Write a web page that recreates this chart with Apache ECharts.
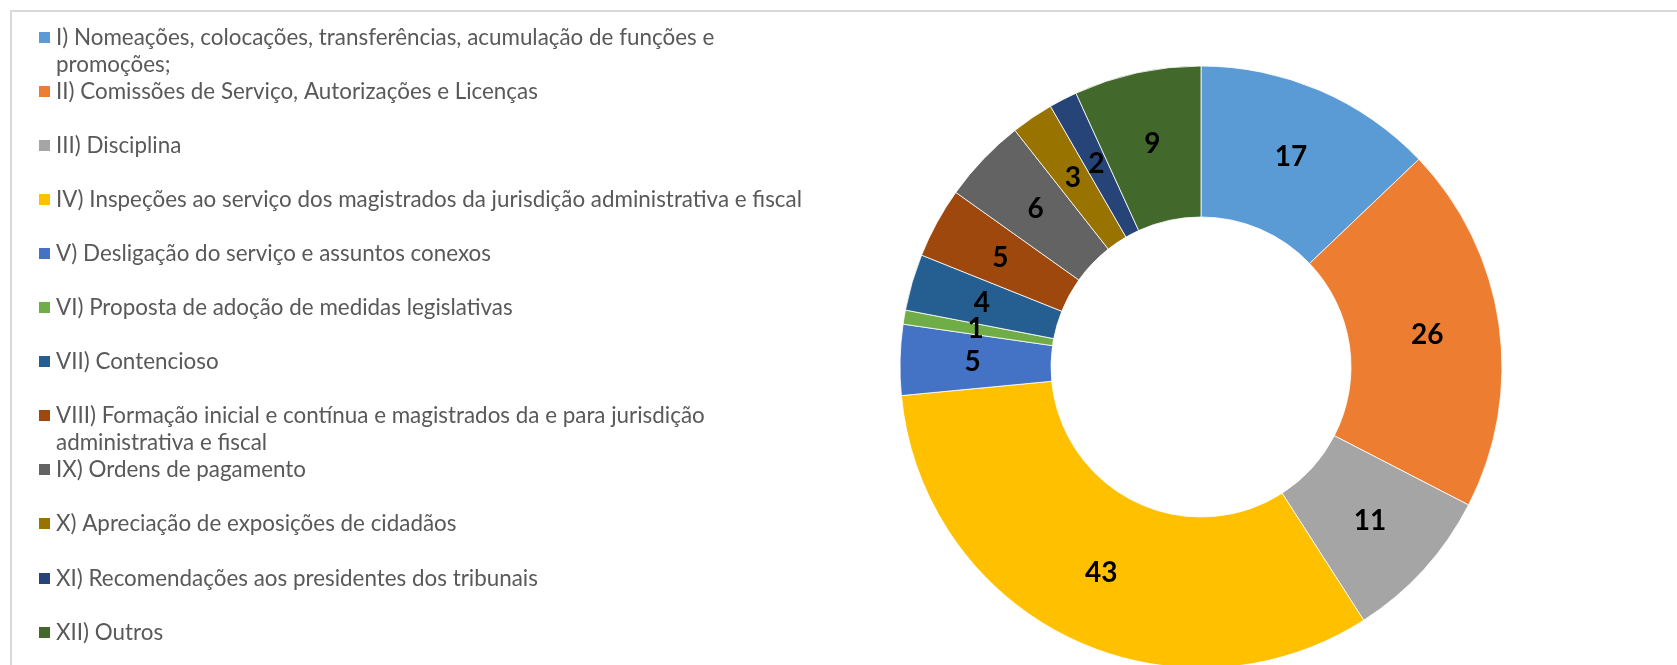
<!DOCTYPE html>
<html>
<head>
<meta charset="utf-8">
<script src="https://cdn.jsdelivr.net/npm/echarts@6/dist/echarts.min.js"></script>
<style>
  html, body { margin: 0; padding: 0; background: #fff; }
  #main { width: 1677px; height: 665px; }
</style>
</head>
<body>
<div id="main"></div>
<script>
// categories as shown in the legend ("\n" = where the original wraps)
const categories = [
    "I) Nomeações, colocações, transferências, acumulação de funções e\npromoções;",
    "II) Comissões de Serviço, Autorizações e Licenças",
    "III) Disciplina",
    "IV) Inspeções ao serviço dos magistrados da jurisdição administrativa e fiscal",
    "V) Desligação do serviço e assuntos conexos",
    "VI) Proposta de adoção de medidas legislativas",
    "VII) Contencioso",
    "VIII) Formação inicial e contínua e magistrados da e para jurisdição\nadministrativa e fiscal",
    "IX) Ordens de pagamento",
    "X) Apreciação de exposições de cidadãos",
    "XI) Recomendações aos presidentes dos tribunais",
    "XII) Outros"
];
const values = [17, 26, 11, 43, 5, 1, 4, 5, 6, 3, 2, 9];
const colors = [
    "#5B9BD5", "#ED7D31", "#A5A5A5", "#FFC000", "#4472C4", "#70AD47",
    "#255E91", "#9E480E", "#636363", "#997300", "#264478", "#43682B"
];

const keyOf = (s) => s.replace("\n", " ");

// one legend per entry so every row sits on the same 54px step,
// wrapped entries get an empty first line so the swatch stays on line one
const legends = categories.map((c, i) => {
    const twoLines = c.indexOf("\n") >= 0;
    const center = 37 + 54.1 * i;
    return {
        orient: "vertical",
        left: 37,
        top: Math.round(center - (twoLines ? 40.5 : 13.5)),
        padding: 0,
        itemWidth: 13,
        itemHeight: 13,
        icon: "rect",
        selectedMode: false,
        data: [keyOf(c)],
        formatter: () => (twoLines ? "\n" + c : c),
        textStyle: {
            color: "#595959",
            fontFamily: "Lato",
            fontSize: 22.4,
            lineHeight: 27,
        },
    };
});

let myChart = echarts.init(document.getElementById("main"));
myChart.setOption({
    animation: false,
    color: colors,
    graphic: [
        {
            type: "rect",
            shape: { x: 11, y: 11, width: 1700, height: 700 },
            style: { fill: null, stroke: "#d9d9d9", lineWidth: 2 },
            silent: true,
        },
    ],
    legend: legends,
    series: [
        {
            type: "pie",
            center: [1201, 367],
            radius: [150, 301],
            startAngle: 90,
            clockwise: true,
            avoidLabelOverlap: false,
            minShowLabelAngle: 0,
            labelLayout: { hideOverlap: false },
            itemStyle: {
                borderColor: "#fff",
                borderWidth: 0.8,
            },
            label: {
                show: true,
                position: "inside",
                formatter: "{c}",
                color: "#000",
                fontFamily: "Lato",
                fontWeight: "bold",
                fontSize: 28,
            },
            labelLine: { show: false },
            emphasis: { disabled: true },
            data: categories.map((c, i) => ({ name: keyOf(c), value: values[i] })),
        },
    ],
});
</script>
</body>
</html>
